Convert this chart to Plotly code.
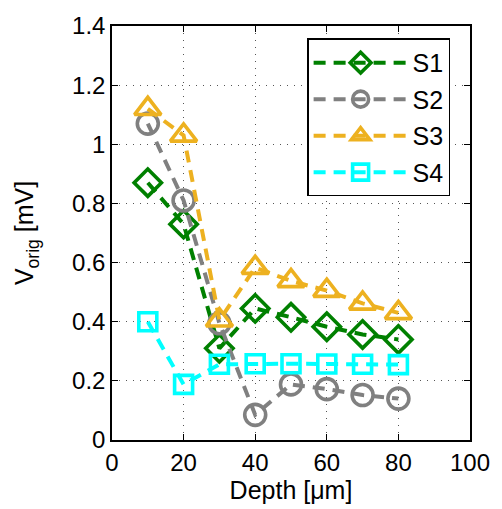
import plotly.graph_objects as go

depth = [10, 20, 30, 40, 50, 60, 70, 80]
s1 = [0.87, 0.73, 0.31, 0.445, 0.415, 0.383, 0.357, 0.340]
s2 = [1.07, 0.81, 0.395, 0.085, 0.188, 0.172, 0.152, 0.140]
s3 = [1.12, 1.03, 0.405, 0.583, 0.538, 0.505, 0.462, 0.430]
s4 = [0.40, 0.188, 0.256, 0.258, 0.258, 0.257, 0.256, 0.255]

series = [
    ("S1", s1, "#008000", "diamond-open", 21),
    ("S2", s2, "#808080", "circle-open", 21),
    ("S3", s3, "#EDB120", "triangle-up-open", 23),
    ("S4", s4, "#00FFFF", "square-open", 18),
]

FONT = "Liberation Sans, Arial, sans-serif"

fig = go.Figure()
for name, vals, color, symbol, msize in series:
    fig.add_trace(go.Scatter(
        x=depth, y=vals, name=name, mode="lines+markers",
        legendgroup=name,
        line=dict(color=color, width=4, dash="12px,8px"),
        marker=dict(symbol=symbol, size=msize, color=color,
                    line=dict(color=color, width=3.6)),
    ))

axis_common = dict(
    showline=True, linecolor="black", linewidth=1.5, mirror="ticks",
    ticks="inside", ticklen=6, tickcolor="black", tickwidth=1.2,
    showgrid=True, gridcolor="#555555", gridwidth=1, griddash="1px,6px",
    zeroline=False,
    tickfont=dict(family=FONT, size=24, color="black"),
)

fig.update_xaxes(range=[0, 100], dtick=20, **axis_common,
                 title=dict(text="Depth [μm]", standoff=3,
                            font=dict(family=FONT, size=25, color="black")))
fig.update_yaxes(range=[0, 1.4], **axis_common,
                 tickvals=[0, 0.2, 0.4, 0.6, 0.8, 1, 1.2, 1.4],
                 ticktext=["0", "0.2", "0.4", "0.6", "0.8", "1", "1.2", "1.4"],
                 title=dict(text="V<sub>orig</sub> [mV]", standoff=31,
                            font=dict(family=FONT, size=25, color="black")))

fig.update_layout(
    width=502, height=509,
    margin=dict(l=112, r=32, t=20, b=69),
    plot_bgcolor="white", paper_bgcolor="white",
    legend=dict(
        x=0.545, y=0.97, xanchor="left", yanchor="top",
        bgcolor="white", bordercolor="black", borderwidth=1.5,
        font=dict(family=FONT, size=25, color="black"),
        itemwidth=94, tracegroupgap=1,
    ),
)

fig.write_html("out.html")
